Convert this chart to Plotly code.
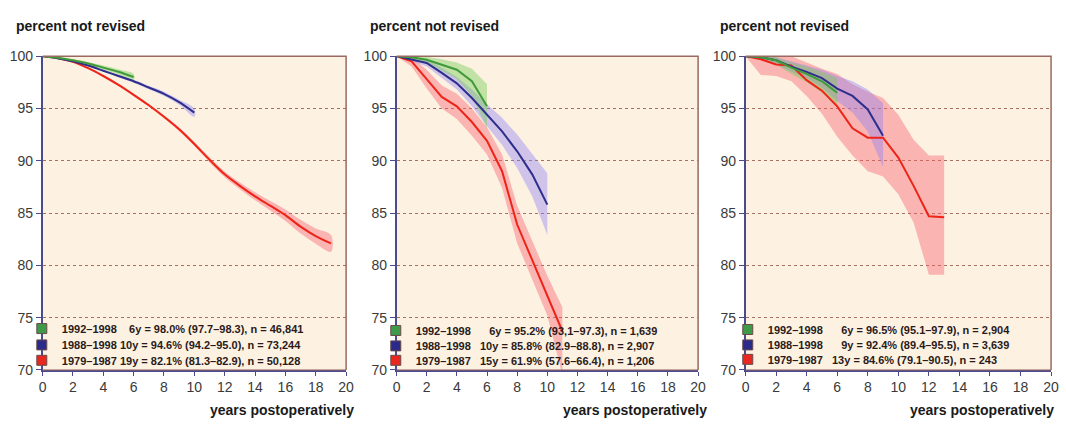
import plotly.graph_objects as go

# ---------------- data ----------------
# Panel A (all)
a_green_years = [0, 1, 2, 3, 4, 5, 6]
a_green = [100, 99.85, 99.6, 99.3, 98.9, 98.5, 98.0]
a_green_lo = [100, 99.8, 99.5, 99.15, 98.7, 98.25, 97.7]
a_green_hi = [100, 99.9, 99.7, 99.45, 99.1, 98.75, 98.3]

a_blue_years = [0, 1, 2, 3, 4, 5, 6, 7, 8, 9, 10]
a_blue = [100, 99.8, 99.5, 99.1, 98.6, 98.1, 97.6, 97.0, 96.4, 95.6, 94.6]
a_blue_lo = [100, 99.78, 99.45, 99.03, 98.52, 97.99, 97.46, 96.84, 96.2, 95.36, 94.2]
a_blue_hi = [100, 99.82, 99.55, 99.17, 98.68, 98.21, 97.74, 97.16, 96.6, 95.84, 95.0]

a_red_years = list(range(0, 20))
a_red = [100, 99.8, 99.45, 98.85, 98.1, 97.25, 96.3, 95.3, 94.2, 93.0,
         91.6, 90.1, 88.7, 87.6, 86.6, 85.7, 84.8, 83.7, 82.8, 82.1]
a_red_lo = [100, 99.78, 99.42, 98.8, 98.03, 97.17, 96.2, 95.18, 94.06, 92.83,
            91.4, 89.86, 88.42, 87.28, 86.22, 85.25, 84.25, 83.05, 82.07, 81.3]
a_red_hi = [100, 99.82, 99.48, 98.9, 98.17, 97.33, 96.4, 95.42, 94.34, 93.17,
            91.8, 90.34, 88.98, 87.92, 86.98, 86.15, 85.35, 84.35, 83.53, 82.9]

# Panel B
b_green_years = [0, 1, 2, 3, 4, 5, 6]
b_green = [100, 99.9, 99.65, 99.2, 98.7, 97.6, 95.2]
b_green_lo = [100, 99.7, 99.3, 98.6, 97.8, 96.2, 93.1]
b_green_hi = [100, 100, 99.95, 99.7, 99.4, 98.8, 97.3]

b_blue_years = [0, 1, 2, 3, 4, 5, 6, 7, 8, 9, 10]
b_blue = [100, 99.7, 99.35, 98.4, 97.4, 96.0, 94.4, 92.8, 90.9, 88.7, 85.8]
b_blue_lo = [100, 99.5, 99.0, 97.9, 96.8, 95.2, 93.3, 91.5, 89.3, 86.6, 82.9]
b_blue_hi = [100, 99.9, 99.7, 98.9, 98.0, 96.8, 95.4, 94.1, 92.5, 90.7, 88.8]

b_red_years = [0, 1, 2, 3, 4, 5, 6, 7, 8, 9, 10, 11]
b_red = [100, 99.5, 97.8, 96.1, 95.2, 93.7, 91.9, 89.0, 83.9, 80.5, 77.1, 73.7]
b_red_lo = [100, 99.0, 96.9, 95.0, 94.0, 92.4, 90.6, 87.4, 82.1, 78.6, 75.2, 69.5]
b_red_hi = [100, 99.9, 98.7, 97.2, 96.4, 95.0, 93.2, 90.6, 85.7, 82.4, 79.0, 76.0]

# Panel C
c_green_years = [0, 1, 2, 3, 4, 5, 6]
c_green = [100, 99.9, 99.6, 98.9, 98.3, 97.6, 96.5]
c_green_lo = [100, 99.7, 99.2, 98.3, 97.5, 96.5, 95.1]
c_green_hi = [100, 100, 99.9, 99.4, 99.0, 98.5, 97.9]

c_blue_years = [0, 1, 2, 3, 4, 5, 6, 7, 8, 9]
c_blue = [100, 99.9, 99.6, 99.0, 98.5, 97.9, 96.9, 96.2, 94.9, 92.4]
c_blue_lo = [100, 99.7, 99.2, 98.5, 97.9, 97.0, 95.7, 94.6, 92.8, 89.4]
c_blue_hi = [100, 100, 99.9, 99.5, 99.1, 98.7, 98.1, 97.6, 96.8, 95.5]

c_red_years = [0, 1, 2, 3, 4, 5, 6, 7, 8, 9, 10, 11, 12, 13]
c_red = [100, 99.7, 99.2, 99.1, 97.7, 96.7, 95.2, 93.1, 92.2, 92.2, 90.3, 87.6, 84.7, 84.6]
c_red_lo = [100, 98.2, 98.1, 97.6, 96.2, 94.5, 92.3, 90.5, 89.0, 88.5, 86.8, 84.1, 79.1, 79.1]
c_red_hi = [100, 100, 100, 100, 99.4, 98.8, 98.3, 97.3, 96.6, 96.0, 94.4, 92.0, 90.5, 90.5]

periods = ["1992–1998", "1988–1998", "1979–1987"]
a_stats = ["6y = 98.0% (97.7–98.3), n = 46,841",
           "10y = 94.6% (94.2–95.0), n = 73,244",
           "19y = 82.1% (81.3–82.9), n = 50,128"]
b_stats = ["6y = 95.2% (93,1–97.3), n = 1,639",
           "10y = 85.8% (82.9–88.8), n = 2,907",
           "15y = 61.9% (57.6–66.4), n = 1,206"]
c_stats = ["6y = 96.5% (95.1–97.9), n = 2,904",
           "9y = 92.4% (89.4–95.5), n = 3,639",
           "13y = 84.6% (79.1–90.5), n = 243"]

x_ticks = [0, 2, 4, 6, 8, 10, 12, 14, 16, 18, 20]
y_ticks = [70, 75, 80, 85, 90, 95, 100]
y_title = "percent not revised"
x_title = "years postoperatively"

# ---------------- styling ----------------
W, H = 1066, 428
line_colors = ["#3f9a3a", "#2e2e8c", "#ee2418"]
band_colors = ["rgba(120,205,90,0.45)", "rgba(140,125,245,0.40)", "rgba(245,95,110,0.42)"]
legend_sq = ["#3c9a48", "#2a2a8a", "#e82820"]
bg = "#FDF2E2"
axis_blue = "#4a4a8e"
border_brown = "#9a6a60"
grid_col = "#a8705e"

panels_px = [(39, 346), (397, 702), (750, 1059)]
y_px = (50, 376)
legend_x_px = [18, 376, 732]
legend_rows_px = [[333, 350, 366], [335, 351, 366], [334, 350, 365]]
ytitle_px = [10, 368, 722]
xtitle_px = [356, 713, 1064]
NB, FS = "\u00a0", "\u2007"
gap_pre = [NB, NB * 3, NB * 3]

panels = [
    dict(series=[(a_green_years, a_green, a_green_lo, a_green_hi),
                 (a_blue_years, a_blue, a_blue_lo, a_blue_hi),
                 (a_red_years, a_red, a_red_lo, a_red_hi)],
         stats=a_stats, shape="spline"),
    dict(series=[(b_green_years, b_green, b_green_lo, b_green_hi),
                 (b_blue_years, b_blue, b_blue_lo, b_blue_hi),
                 (b_red_years, b_red, b_red_lo, b_red_hi)],
         stats=b_stats, shape="linear"),
    dict(series=[(c_green_years, c_green, c_green_lo, c_green_hi),
                 (c_blue_years, c_blue, c_blue_lo, c_blue_hi),
                 (c_red_years, c_red, c_red_lo, c_red_hi)],
         stats=c_stats, shape="linear"),
]

fig = go.Figure()
tick_font = dict(family="Liberation Sans, Arial, sans-serif", size=14, color="#3a3a3a")
title_font = dict(family="Liberation Sans, Arial, sans-serif", size=14, color="#1a1a1a", weight="bold")
leg_font = dict(family="Liberation Sans, Arial, sans-serif", size=11, color="#2a1a1a", weight="bold")

layout = dict(width=W, height=H, autosize=False,
              margin=dict(l=0, r=0, t=0, b=0),
              paper_bgcolor="white", plot_bgcolor=bg,
              showlegend=True, annotations=[], shapes=[])

leg_idx = 1
for i, p in enumerate(panels):
    sfx = "" if i == 0 else str(i + 1)
    xa, ya = "x" + sfx, "y" + sfx
    for k in [2, 1, 0]:
        yrs, v, lo, hi = p["series"][k]
        fig.add_trace(go.Scatter(
            x=list(yrs) + list(yrs)[::-1], y=list(hi) + list(lo)[::-1],
            fill="toself", fillcolor=band_colors[k], line=dict(width=0, shape=p["shape"]),
            mode="lines", hoverinfo="skip", showlegend=False, xaxis=xa, yaxis=ya))
    for k in [2, 1, 0]:
        yrs, v, lo, hi = p["series"][k]
        fig.add_trace(go.Scatter(
            x=yrs, y=v, mode="lines",
            line=dict(color=line_colors[k], width=2, shape=p["shape"], smoothing=0.8),
            showlegend=False, xaxis=xa, yaxis=ya))
    # legend entries: one legend per row for exact row spacing
    for k in range(3):
        leg = "legend" if leg_idx == 1 else "legend" + str(leg_idx)
        stat = p["stats"][k]
        pad = FS + NB if stat.index("y") == 1 else ""
        fig.add_trace(go.Scatter(
            x=[None], y=[None], mode="markers",
            marker=dict(symbol="square", size=10, color=legend_sq[k],
                        line=dict(color="#6a4a4a", width=1)),
            name=periods[k] + gap_pre[i] + pad + stat,
            legend=leg, xaxis=xa, yaxis=ya))
        layout[leg] = dict(x=legend_x_px[i] / W, y=1 - legend_rows_px[i][k] / H,
                           xanchor="left", yanchor="middle",
                           bgcolor="rgba(0,0,0,0)", borderwidth=0, font=leg_font,
                           itemclick=False, itemdoubleclick=False)
        leg_idx += 1
    x0, x1 = panels_px[i]
    dom_x = [x0 / W, x1 / W]
    dom_y = [(H - y_px[1]) / H, (H - y_px[0]) / H]
    layout["xaxis" + sfx] = dict(
        domain=dom_x, range=[0, 20], tickvals=x_ticks, anchor=ya,
        showgrid=False, zeroline=False, showline=True, linecolor=axis_blue, linewidth=1.5,
        ticks="outside", ticklen=4, tickcolor=axis_blue, tickwidth=1, tickfont=tick_font)
    layout["yaxis" + sfx] = dict(
        domain=dom_y, range=[70, 100], tickvals=y_ticks, anchor=xa,
        showgrid=True, gridcolor=grid_col, griddash="dot", gridwidth=1,
        zeroline=False, showline=True, linecolor=axis_blue, linewidth=1.5,
        ticks="outside", ticklen=5, tickcolor=axis_blue, tickwidth=1, tickfont=tick_font)
    layout["shapes"].append(dict(type="path",
                                 path=f"M {x0/W} {1 - y_px[1]/H} L {x1/W} {1 - y_px[1]/H}",
                                 xref="paper", yref="paper",
                                 line=dict(color=border_brown, width=1)))
    layout["shapes"].append(dict(type="path",
                                 path=f"M {x0/W} {1 - y_px[0]/H} L {x1/W} {1 - y_px[0]/H} L {x1/W} {1 - y_px[1]/H}",
                                 xref="paper", yref="paper",
                                 line=dict(color=border_brown, width=1.5)))
    layout["annotations"].append(dict(text=y_title, x=ytitle_px[i] / W, y=1 - 19 / H,
                                      xref="paper", yref="paper", xanchor="left", yanchor="middle",
                                      showarrow=False, font=title_font))
    layout["annotations"].append(dict(text=x_title, x=xtitle_px[i] / W, y=1 - 418 / H,
                                      xref="paper", yref="paper", xanchor="right", yanchor="middle",
                                      showarrow=False, font=title_font))

fig.update_layout(**layout)
fig.write_html("out.html", config={"displayModeBar": False},
               post_script="document.body.style.margin='0';document.body.style.overflow='hidden';")
